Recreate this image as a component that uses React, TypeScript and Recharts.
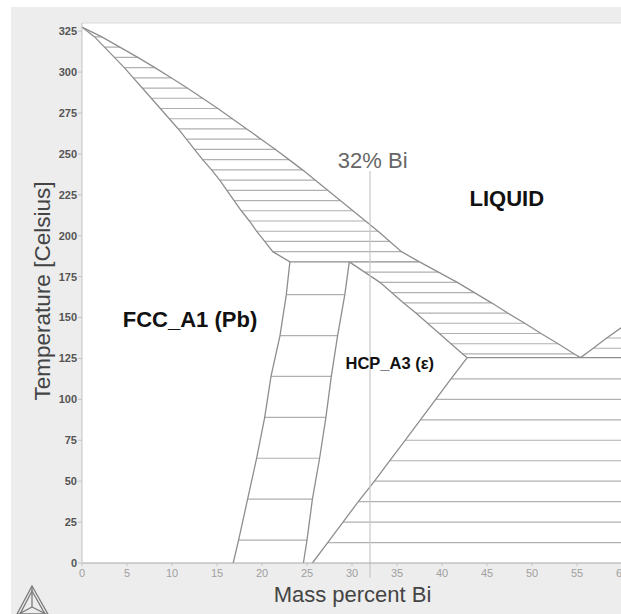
import {
  ComposedChart,
  Line,
  XAxis,
  YAxis,
  CartesianGrid,
  ReferenceLine,
  ReferenceDot,
} from "recharts";

const FONT = '"Liberation Sans", Arial, sans-serif';

// axis ticks
const xTicks = [0, 5, 10, 15, 20, 25, 30, 35, 40, 45, 50, 55, 60];
const yTicks = [0, 25, 50, 75, 100, 125, 150, 175, 200, 225, 250, 275, 300, 325];
const X_MAX = 65;
const T_MAX = 330;

// invariant points (wt% Bi, Celsius)
const pbMelt = { x: 0, t: 327.5 };
const peritectic = { t: 184, fcc: 23.1, hcp: 29.7, liq: 37.5 };
const eutectic = { t: 125.5, hcp: 42.8, liq: 55.4 };
const roomT = { fcc: 16.8, hcpLeft: 24.6, hcpRight: 25.6 };
const marker = { x: 32, top: 239.5, bottom: -9 };

// L + FCC tie lines
const lfTemps = [321.5, 315.25, 309, 302.75, 296.5, 290.25, 284, 277.75, 271.5, 265.25, 259, 252.75, 246.5, 240.25, 234, 227.75, 221.5, 215.25, 209, 202.75, 196.5, 190.25];
const lfSolidus = [1.4, 2.5, 3.6, 4.7, 5.7, 6.7, 7.7, 8.7, 9.7, 10.7, 11.6, 12.5, 13.4, 14.4, 15.3, 16.1, 16.9, 17.7, 18.6, 19.4, 20.3, 21.2];
const lfLiquidus = [2.2, 4.2, 6.2, 8.1, 9.9, 11.7, 13.4, 15.1, 16.7, 18.3, 19.9, 21.5, 23.0, 24.5, 25.9, 27.3, 28.7, 30.1, 31.5, 32.9, 34.2, 35.5];

// L + HCP tie lines
const lhTemps = [177.75, 171.5, 165.25, 159, 152.75, 146.5, 140.25, 134, 127.75];
const lhSolidus = [31.4, 33.1, 34.4, 35.7, 37.1, 38.4, 39.7, 41.0, 42.3];
const lhLiquidus = [39.6, 41.7, 43.6, 45.5, 47.3, 49.2, 51.0, 52.9, 54.7];

// FCC + HCP tie lines
const fhTemps = [164, 139, 114, 89, 64, 39, 14];
const fhFcc = [22.7, 22.0, 21.0, 20.3, 19.4, 18.4, 17.4];
const fhHcp = [29.2, 28.4, 27.7, 27.1, 26.4, 25.6, 25.0];

// HCP + Bi tie lines
const hbTemps = [112.5, 100, 87.5, 75, 62.5, 50, 37.5, 25, 12.5];
const hbHcp = [41.0, 39.3, 37.6, 35.9, 34.2, 32.5, 30.7, 29.0, 27.3];

// L + Bi tie lines
const lbTemps = [131.25, 137.5, 143.75, 150, 156.25, 162.5];
const lbLiquidus = [56.8, 58.3, 59.9, 61.4, 62.9, 64.4];

type Pt = { x: number; t: number | null };

function ties(temps: number[], left: number[], right: number[] | number): Pt[] {
  const out: Pt[] = [];
  temps.forEach((t, i) => {
    const r = typeof right === "number" ? right : right[i];
    out.push({ x: left[i], t }, { x: r, t }, { x: r, t: null });
  });
  return out;
}

function curve(start: [number, number], xs: number[], temps: number[], end?: [number, number]): Pt[] {
  const pts: Pt[] = [{ x: start[0], t: start[1] }, ...xs.map((x, i) => ({ x, t: temps[i] }))];
  if (end) pts.push({ x: end[0], t: end[1] });
  return pts;
}

const tieData = [
  ...ties(lfTemps, lfSolidus, lfLiquidus),
  ...ties(lhTemps, lhSolidus, lhLiquidus),
  ...ties(fhTemps, fhFcc, fhHcp),
  ...ties(hbTemps, hbHcp, X_MAX),
  ...ties(lbTemps, lbLiquidus, X_MAX),
];

const boundaries: Pt[][] = [
  curve([pbMelt.x, pbMelt.t], lfLiquidus, lfTemps, [peritectic.liq, peritectic.t]),
  curve([pbMelt.x, pbMelt.t], lfSolidus, lfTemps, [peritectic.fcc, peritectic.t]),
  curve([peritectic.fcc, peritectic.t], [peritectic.liq], [peritectic.t]),
  curve([peritectic.fcc, peritectic.t], fhFcc, fhTemps, [roomT.fcc, 0]),
  curve([peritectic.hcp, peritectic.t], fhHcp, fhTemps, [roomT.hcpLeft, 0]),
  curve([peritectic.hcp, peritectic.t], lhSolidus, lhTemps, [eutectic.hcp, eutectic.t]),
  curve([peritectic.liq, peritectic.t], lhLiquidus, lhTemps, [eutectic.liq, eutectic.t]),
  curve([eutectic.hcp, eutectic.t], [X_MAX], [eutectic.t]),
  curve([eutectic.hcp, eutectic.t], hbHcp, hbTemps, [roomT.hcpRight, 0]),
  curve([eutectic.liq, eutectic.t], lbLiquidus, lbTemps),
];

const regionLabels = [
  { x: 47.2, t: 223.2, text: "LIQUID", size: 22 },
  { x: 12.0, t: 149.0, text: "FCC_A1 (Pb)", size: 22 },
  { x: 34.2, t: 122.0, text: "HCP_A3 (ε)", size: 16.5 },
];

function Logo() {
  return (
    <svg width={40} height={32} style={{ position: "absolute", left: 12, top: 584 }}>
      <g fill="none" stroke="#7a7a7a" strokeWidth={1.3}>
        <polygon points="20,2 4,32 37,32" />
        <polygon points="20,7 8,30 33,30" />
        <line x1={20} y1={2} x2={20} y2={23} />
        <line x1={20} y1={23} x2={5} y2={31} />
        <line x1={20} y1={23} x2={36} y2={31} />
      </g>
    </svg>
  );
}

export default function App() {
  return (
    <div
      style={{
        position: "fixed",
        left: 0,
        top: 0,
        width: 621,
        height: 614,
        overflow: "hidden",
        background: "#fff",
        fontFamily: FONT,
      }}
    >
      <div style={{ position: "absolute", left: 11, top: 7, right: 0, bottom: 0, background: "#ededed" }} />
      <div style={{ position: "absolute", left: 0, top: 0 }}>
        <ComposedChart width={700} height={614} margin={{ top: 23, right: 33, bottom: 21, left: 22 }}>
          <CartesianGrid horizontal={false} vertical={false} fill="#ffffff" fillOpacity={1} />
          <XAxis
            type="number"
            dataKey="x"
            domain={[0, X_MAX]}
            ticks={xTicks}
            interval={0}
            height={30}
            tickSize={3}
            tickMargin={3}
            axisLine={{ stroke: "#a8a8a8" }}
            tickLine={{ stroke: "#c4c4c4" }}
            tick={{ fontSize: 11, fill: "#a0a0a0", fontFamily: FONT }}
          />
          <YAxis
            type="number"
            dataKey="t"
            domain={[0, T_MAX]}
            ticks={yTicks}
            interval={0}
            width={60}
            tickSize={4}
            tickMargin={1}
            axisLine={{ stroke: "#c4c4c4" }}
            tickLine={{ stroke: "#c4c4c4" }}
            tick={{ fontSize: 11, fill: "#555", fontWeight: "bold", fontFamily: FONT }}
          />
          <ReferenceLine y={T_MAX} stroke="#d8d8d8" />
          <Line
            data={tieData}
            dataKey="t"
            stroke="#b0b0b0"
            strokeWidth={1.2}
            dot={false}
            activeDot={false}
            connectNulls={false}
            isAnimationActive={false}
          />
          {boundaries.map((b, i) => (
            <Line
              key={i}
              data={b}
              dataKey="t"
              stroke="#8e8e8e"
              strokeWidth={1.3}
              dot={false}
              activeDot={false}
              isAnimationActive={false}
            />
          ))}
          <ReferenceLine
            segment={[
              { x: marker.x, y: marker.top },
              { x: marker.x, y: marker.bottom },
            ]}
            stroke="#c8c8c8"
            strokeWidth={1.2}
            ifOverflow="visible"
          />
          <ReferenceDot
            x={32.3}
            y={246.4}
            r={0}
            fill="none"
            stroke="none"
            label={{ value: "32% Bi", position: "center", fill: "#666", fontSize: 22, fontFamily: FONT }}
          />
          {regionLabels.map((l) => (
            <ReferenceDot
              key={l.text}
              x={l.x}
              y={l.t}
              r={0}
              fill="none"
              stroke="none"
              label={{
                value: l.text,
                position: "center",
                fill: "#111",
                fontSize: l.size,
                fontWeight: "bold",
                fontFamily: FONT,
              }}
            />
          ))}
        </ComposedChart>
      </div>
      <div
        style={{
          position: "absolute",
          left: 43,
          top: 291,
          transform: "translate(-50%, -50%) rotate(-90deg)",
          whiteSpace: "nowrap",
          fontSize: 22.5,
          lineHeight: 1,
          color: "#444",
        }}
      >
        Temperature [Celsius]
      </div>
      <div
        style={{
          position: "absolute",
          left: 352.5,
          top: 584,
          transform: "translateX(-50%)",
          whiteSpace: "nowrap",
          fontSize: 22,
          lineHeight: 1,
          color: "#444",
        }}
      >
        Mass percent Bi
      </div>
      <Logo />
    </div>
  );
}
